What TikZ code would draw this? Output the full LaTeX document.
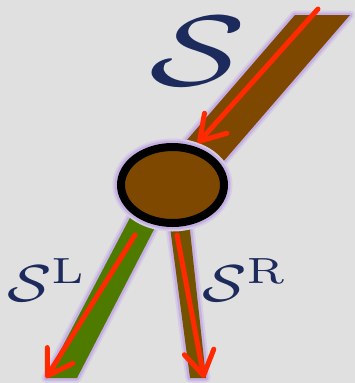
\documentclass[tikz,border=0pt]{standalone}
\usetikzlibrary{arrows.meta,shapes.geometric}
\definecolor{bg}{HTML}{E0E0E0}
\definecolor{glow}{HTML}{C4B0E2}
\definecolor{glowsoft}{HTML}{D6CCE4}
\definecolor{stripbrown}{HTML}{7F4800}
\definecolor{stripgreen}{HTML}{4F7A00}
\definecolor{stripolive}{HTML}{735300}
\definecolor{arrowred}{HTML}{FF2A00}
\definecolor{navy}{HTML}{1C2A5C}
\begin{document}
\begin{tikzpicture}[x=1pt,y=-1pt,
  strip/.style={fill=#1,
    preaction={draw=glowsoft, line width=9pt, line join=round},
    preaction={draw=glow, line width=5pt, line join=round}},
  vertex/.style={ellipse, draw=black, fill=stripbrown, line width=8pt, inner sep=0pt,
    minimum width=103pt, minimum height=76pt,
    preaction={draw=glowsoft, line width=17pt},
    preaction={draw=glow, line width=13pt}},
  redarrow/.style={draw=arrowred, line width=5pt, line cap=round,
    -{Straight Barb[length=24pt,width=30pt,round]}},
  lbl/.style={text=navy, inner sep=0pt}]
\fill[bg] (0,0) rectangle (355,383);
\useasboundingbox (0,0) rectangle (355,383);
% strips
\path[strip=stripbrown] (295,15) -- (350,15) -- (203,185) -- (148,185) -- cycle;
\path[strip=stripgreen] (133,212) -- (163,212) -- (77,378) -- (46,378) -- cycle;
\path[strip=stripolive] (168,212) -- (188,212) -- (206,378) -- (190,378) -- cycle;
% vertex
\node[vertex] (v) at (172.5,185) {};
% arrows
\coordinate (a1s) at (318,9);
\coordinate (a1e) at (198,143);
\coordinate (a2s) at (135,235);
\coordinate (a2e) at (46,378);
\coordinate (a3s) at (177,235);
\coordinate (a3e) at (204,378);
\draw[redarrow] (a1s) -- (a1e);
\draw[redarrow] (a2s) -- (a2e);
\draw[redarrow] (a3s) -- (a3e);
% labels
\node[lbl, scale=10, xscale=1.42] (S) at (198,51) {$\mathcal{S}$};
\node[lbl, scale=5.2, xscale=1.25] (SL) at (47,280) {$\mathcal{S}^{\mathrm{L}}$};
\node[lbl, scale=5.2, xscale=1.25] (SR) at (245,280) {$\mathcal{S}^{\mathrm{R}}$};
\end{tikzpicture}
\end{document}
